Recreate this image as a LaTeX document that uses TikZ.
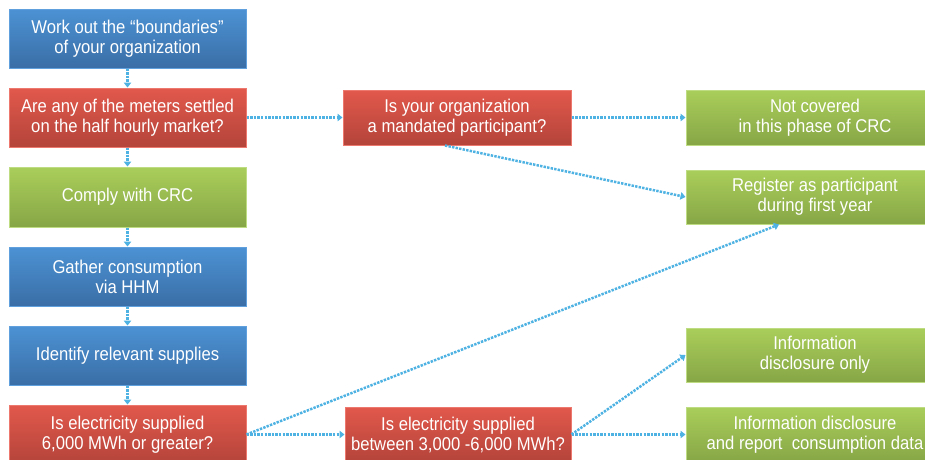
\documentclass[tikz,border=0pt]{standalone}
\usepackage{fontspec}
\setmainfont[FakeStretch=0.9]{Liberation Sans}
\usetikzlibrary{arrows.meta}

\definecolor{blueTop}{RGB}{76,146,212}
\definecolor{blueBot}{RGB}{58,110,166}
\definecolor{blueEdge}{RGB}{96,160,220}
\definecolor{redTop}{RGB}{226,88,76}
\definecolor{redBot}{RGB}{180,68,58}
\definecolor{redEdge}{RGB}{236,120,110}
\definecolor{greenTop}{RGB}{170,206,90}
\definecolor{greenBot}{RGB}{134,166,70}
\definecolor{greenEdge}{RGB}{190,220,130}
\definecolor{flowBlue}{RGB}{78,178,226}

\tikzset{
  box/.style={rectangle, inner sep=0pt, align=center, text=white,
    line width=1pt, font=\fontsize{18.5}{20}\selectfont},
  bluebox/.style={box, draw=blueEdge, top color=blueTop, bottom color=blueBot},
  redbox/.style={box, draw=redEdge, top color=redTop, bottom color=redBot},
  greenbox/.style={box, draw=greenEdge, top color=greenTop, bottom color=greenBot},
  flow/.style={draw=flowBlue, line width=2.5pt, dash pattern=on 2.4pt off 1.2pt,
    -{Triangle[length=5pt,width=7.5pt]}, shorten >=0pt},
}

\begin{document}
\begin{tikzpicture}[x=1pt,y=-1pt]
\useasboundingbox (0,0) rectangle (925,459);
\clip (0,0) rectangle (925,459);

% left column: the main sequence of steps
\node[bluebox, minimum width=237pt, minimum height=59pt] (bound) at (127.5,38.5)
  {Work out the “boundaries”\\ of your organization};
\node[redbox, minimum width=237pt, minimum height=59pt] (meters) at (127.5,117.5)
  {Are any of the meters settled\\on the half hourly market?};
\node[greenbox, minimum width=237pt, minimum height=60pt] (comply) at (127.5,197)
  {Comply with CRC};
\node[bluebox, minimum width=237pt, minimum height=59pt] (gather) at (127.5,276.5)
  {Gather consumption\\via HHM};
\node[bluebox, minimum width=237pt, minimum height=59pt] (identify) at (127.5,355.5)
  {Identify relevant supplies};
\node[redbox, minimum width=237pt, minimum height=59pt] (six) at (127.5,434.5)
  {Is electricity supplied\\6,000 MWh or greater?};

% middle column: further questions
\node[redbox, minimum width=228pt, minimum height=55pt] (mandated) at (457,117.5)
  {Is your organization\\a mandated participant?};
\node[redbox, minimum width=226pt, minimum height=55pt] (between) at (458,434.5)
  {Is electricity supplied\\between 3,000 -6,000 MWh?};

% right column: outcomes
\node[greenbox, minimum width=258pt, minimum height=55pt] (notcov) at (815,117.5)
  {Not covered\\in this phase of CRC};
\node[greenbox, minimum width=258pt, minimum height=54pt] (register) at (815,197)
  {Register as participant\\during first year};
\node[greenbox, minimum width=258pt, minimum height=54pt] (disc) at (815,355)
  {Information\\disclosure only};
\node[greenbox, minimum width=258pt, minimum height=55pt] (report) at (815,434.5)
  {Information disclosure\\and report~ consumption data};

% connectors
\draw[flow] (bound) -- (meters);
\draw[flow] (meters) -- (comply);
\draw[flow] (comply) -- (gather);
\draw[flow] (gather) -- (identify);
\draw[flow] (identify) -- (six);
\draw[flow] (meters.east) -- (mandated.west);
\draw[flow] (mandated.east) -- (notcov.west);
\draw[flow] ([xshift=-12pt]mandated.south) -- (register.west);
\draw[flow] (six.east) -- (between.west);
\draw[flow] (six.east) -- ([xshift=-36pt]register.south);
\draw[flow] (between.east) -- (disc.west);
\draw[flow] (between.east) -- (report.west);
\end{tikzpicture}
\end{document}
